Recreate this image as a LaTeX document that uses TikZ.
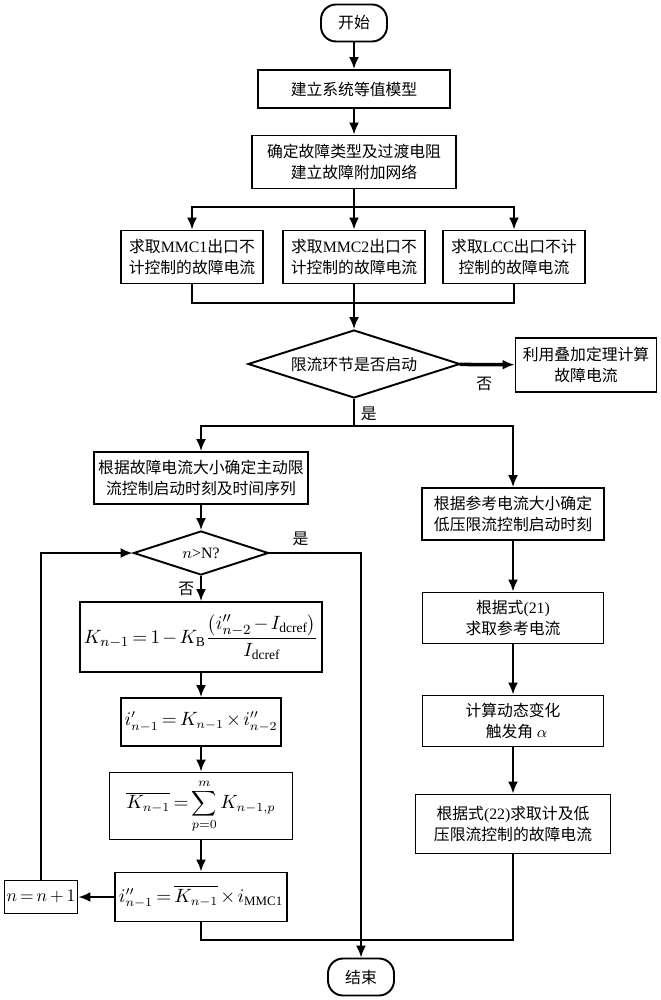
\documentclass[tikz,border=0pt]{standalone}
\usepackage{fontspec}
\setmainfont{Liberation Serif}
\newfontfamily\cjk{Noto Sans CJK SC}
\usetikzlibrary{shapes.geometric,arrows.meta}
\newcommand{\lat}[1]{{\rmfamily #1}}
\newcommand{\mathtight}{\medmuskip=2mu\relax\thickmuskip=3mu\relax}
\tikzset{
  box/.style={draw,align=center,inner sep=2pt},
  term/.style={draw,rounded corners=0.3cm,minimum width=1.32cm,minimum height=0.74cm},
  dec/.style={draw,diamond,aspect=3,inner sep=0pt},
  mbox/.style={box,font=\fontsize{#1}{13}\selectfont\mathtight},
  mbox/.default=11,
}
\begin{document}
\begin{tikzpicture}[x=0.02cm,y=-0.02cm,line width=1.1pt,>={Latex[length=2.4mm,width=2mm]},
    font=\cjk\fontsize{9}{12}\selectfont]
  \useasboundingbox (0,0) rectangle (661,1000);
  \node[term] (start) at (354,23) {开始};
  \node[box,minimum width=3.84cm,minimum height=0.76cm] (model) at (354,89) {建立系统等值模型};
  \node[box,minimum width=4.08cm,minimum height=1.06cm] (fault) at (354,162) {确定故障类型及过渡电阻\\建立故障附加网络};
  \node[box,minimum width=2.84cm,minimum height=1.06cm] (mmc1) at (192,257) {求取\lat{MMC1}出口不\\计控制的故障电流};
  \node[box,minimum width=2.84cm,minimum height=1.06cm] (mmc2) at (354,257) {求取\lat{MMC2}出口不\\计控制的故障电流};
  \node[box,minimum width=2.84cm,minimum height=1.06cm] (lcc) at (514,257) {求取\lat{LCC}出口不计\\控制的故障电流};
  \node[dec,minimum width=4.24cm,minimum height=1.36cm] (limit) at (354,364) {限流环节是否启动};
  \node[box,minimum width=2.82cm,minimum height=1.08cm] (super) at (586,365) {利用叠加定理计算\\故障电流};
  \node[box,minimum width=4.28cm,minimum height=1.04cm] (seq) at (201,478) {根据故障电流大小确定主动限\\流控制启动时刻及时间序列};
  \node[box,minimum width=3.64cm,minimum height=1.04cm] (low) at (513,514) {根据参考电流大小确定\\低压限流控制启动时刻};
  \node[dec,minimum width=2.70cm,minimum height=0.88cm] (cnt) at (201,553) {$n$\lat{>N?}};
  \node[mbox,minimum width=4.68cm,minimum height=1.40cm] (kfac) at (201,637)
    {$\displaystyle K_{n-1}=1-K_{\mathrm{B}}\frac{\left(i^{\prime\prime}_{n-2}-I_{\mathrm{dcref}}\right)}{I_{\mathrm{dcref}}}$};
  \node[mbox=10.5,minimum width=3.08cm,minimum height=0.96cm] (ione) at (201,722) {$i^{\prime}_{n-1}=K_{n-1}\times i^{\prime\prime}_{n-2}$};
  \node[mbox=10.5,inner ysep=3pt,minimum width=3.66cm,minimum height=1.34cm] (kavg) at (201,806) {$\displaystyle \overline{K_{n-1}}=\sum_{p=0}^{m}K_{n-1,p}$};
  \node[mbox=10.5,minimum width=3.26cm,minimum height=0.98cm] (itwo) at (201,897) {$i^{\prime\prime}_{n-1}=\overline{K_{n-1}}\times i_{\mathrm{MMC1}}$};
  \node[mbox=10,inner xsep=1pt,minimum width=1.46cm,minimum height=0.66cm] (inc) at (41,897) {$n\,{=}\,n\,{+}\,1$};
  \node[box,minimum width=3.62cm,minimum height=1.02cm] (iref) at (513,618) {根据式\lat{(21)}\\求取参考电流};
  \node[box,minimum width=3.62cm,minimum height=1.02cm] (alpha) at (513,721) {计算动态变化\\\ \ 触发角\ $\alpha$};
  \node[box,minimum width=3.90cm,minimum height=1.18cm] (ilow) at (513,824) {根据式\lat{(22)}求取计及低\\压限流控制的故障电流};
  \node[term] (stop) at (361,977) {结束};
  \coordinate (fork) at (354,207);
  \coordinate (join) at (354,303);
  \coordinate (yes) at (354,426);
  \coordinate (merge) at (513,940);
  \draw[->] (start) -- (model);
  \draw[->] (model) -- (fault);
  \draw[->] (fault) -- (mmc2);
  \draw[->] (fork) -| (mmc1);
  \draw[->] (fork) -| (lcc);
  \draw (mmc1) |- (join) -| (lcc);
  \draw[->] (mmc2) -- (limit);
  \draw[->,line width=2pt] (limit) -- (super) node[pos=0.45,below=3pt] {否};
  \draw (limit) -- (yes) node[pos=0.55,right] {是};
  \draw[->] (yes) -| (seq);
  \draw[->] (yes) -| (low);
  \draw[->] (seq) -- (cnt);
  \draw[->] (cnt) -- (kfac) node[pos=0.5,left] {否};
  \draw[->] (kfac) -- (ione);
  \draw[->] (ione) -- (kavg);
  \draw[->] (kavg) -- (itwo);
  \draw[->] (itwo) -- (inc);
  \draw[->] (inc) |- (cnt);
  \draw[->] (cnt) -| (stop) node[pos=0.17,above] {是};
  \draw[->] (low) -- (iref);
  \draw[->] (iref) -- (alpha);
  \draw[->] (alpha) -- (ilow);
  \draw (itwo) |- (merge) -- (ilow);
\end{tikzpicture}
\end{document}
